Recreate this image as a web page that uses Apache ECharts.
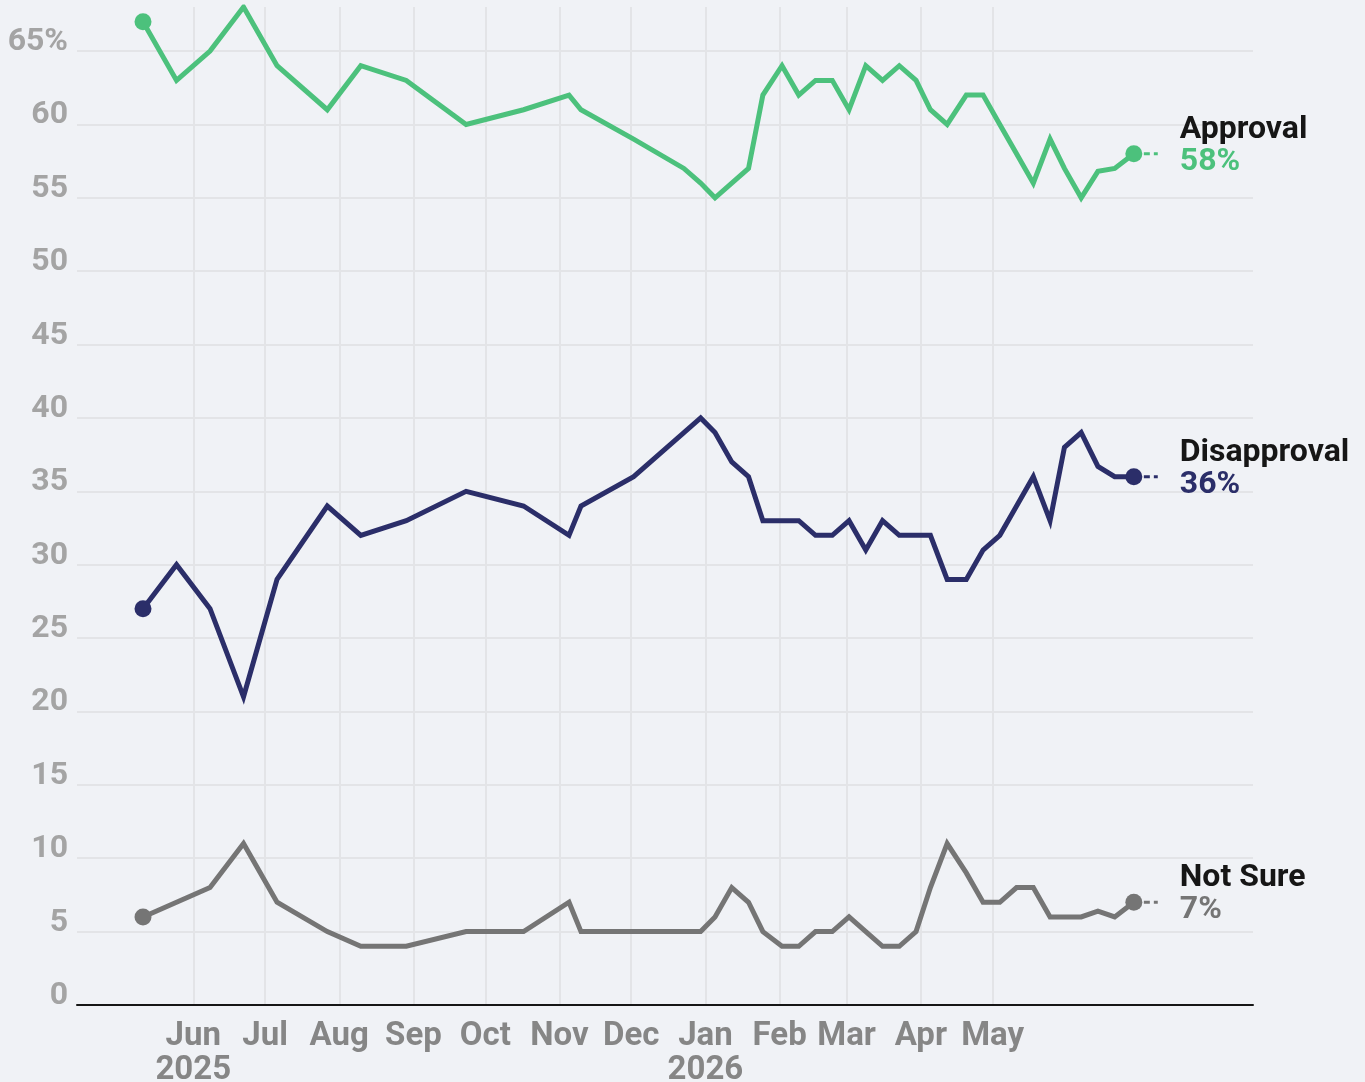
<!DOCTYPE html>
<html>
<head>
<meta charset="utf-8">
<script src="https://cdn.jsdelivr.net/npm/echarts@6/dist/echarts.min.js"></script>
<style>
  html, body { margin: 0; padding: 0; background: #f0f2f6; }
  #chart { width: 1365px; height: 1082px; }
</style>
</head>
<body>
<div id="chart"></div>
<script>
// poll dates (shared by all three series)
const pollDates = [
  '2025-05-11', '2025-05-25', '2025-06-08', '2025-06-22', '2025-07-06', '2025-07-27',
  '2025-08-10', '2025-08-29', '2025-09-23', '2025-10-17', '2025-11-05', '2025-11-10',
  '2025-12-02', '2025-12-23', '2025-12-30', '2026-01-05', '2026-01-12', '2026-01-19',
  '2026-01-25', '2026-02-02', '2026-02-09', '2026-02-16', '2026-02-23', '2026-03-02',
  '2026-03-09', '2026-03-16', '2026-03-23', '2026-03-30', '2026-04-05', '2026-04-12',
  '2026-04-20', '2026-04-27', '2026-05-04', '2026-05-11', '2026-05-18', '2026-05-25',
  '2026-05-31', '2026-06-07', '2026-06-14', '2026-06-21', '2026-06-29'
];
const approval = [
  67, 63, 65, 68, 64, 61, 64, 63, 60, 61, 62, 61,
  59, 57, 56, 55, 56, 57, 62, 64, 62, 63, 63, 61,
  64, 63, 64, 63, 61, 60, 62, 62, 60, 58, 56, 59,
  57, 55, 56.8, 57, 58
];
const disapproval = [
  27, 30, 27, 21, 29, 34, 32, 33, 35, 34, 32, 34,
  36, 39, 40, 39, 37, 36, 33, 33, 33, 32, 32, 33,
  31, 33, 32, 32, 32, 29, 29, 31, 32, 34, 36, 33,
  38, 39, 36.7, 36, 36
];
const notSure = [
  6, 7, 8, 11, 7, 5, 4, 4, 5, 5, 7, 5,
  5, 5, 5, 6, 8, 7, 5, 4, 4, 5, 5, 6,
  5, 4, 4, 5, 8, 11, 9, 7, 7, 8, 8, 6,
  6, 6, 6.4, 6, 7
];
// month gridlines / labels
const monthTicks = [
  '2025-06-01', '2025-07-01', '2025-08-01', '2025-09-01', '2025-10-01', '2025-11-01',
  '2025-12-01', '2026-01-01', '2026-02-01', '2026-03-01', '2026-04-01', '2026-05-01'
];
const yTicks = [0, 5, 10, 15, 20, 25, 30, 35, 40, 45, 50, 55, 60, 65];

const seriesDefs = [
  { name: 'Approval', values: approval, color: '#4cc17c' },
  { name: 'Disapproval', values: disapproval, color: '#2b2e69' },
  { name: 'Not Sure', values: notSure, color: '#757575' }
];

const monthNames = ['Jan', 'Feb', 'Mar', 'Apr', 'May', 'Jun', 'Jul', 'Aug', 'Sep', 'Oct', 'Nov', 'Dec'];
const toTime = (s) => new Date(s + 'T00:00:00Z').getTime();
const DAY = 86400000;
const last = pollDates.length - 1;

const chart = echarts.init(document.getElementById('chart'));

const series = [];
seriesDefs.forEach((s) => {
  // main line, dots only on first and last point
  series.push({
    name: s.name,
    type: 'line',
    data: pollDates.map((d, i) => [toTime(d), s.values[i]]),
    symbol: 'circle',
    showSymbol: true,
    symbolSize: (v, p) => (p.dataIndex === 0 || p.dataIndex === last ? 17 : 0),
    itemStyle: { color: s.color },
    lineStyle: { color: s.color, width: 5, join: 'miter' },
    z: 3
  });
  // dashed leader + end label
  const endVal = s.values[last];
  series.push({
    type: 'line',
    data: [
      [toTime(pollDates[last]), endVal],
      [toTime(pollDates[last]) + 10 * DAY, endVal]
    ],
    symbol: 'none',
    lineStyle: { color: s.color, width: 3, type: [6, 4] },
    endLabel: {
      show: true,
      distance: 22,
      offset: [0, -8],
      formatter: '{n|' + s.name + '}\n{v|' + Math.round(endVal) + '%}',
      rich: {
        n: { fontFamily: 'Roboto', fontWeight: 'bold', fontSize: 32, color: '#161616', lineHeight: 32 },
        v: { fontFamily: 'Roboto', fontWeight: 'bold', fontSize: 32, color: s.color, lineHeight: 32 }
      }
    },
    silent: true,
    z: 2
  });
});

const option = {
  backgroundColor: '#f0f2f6',
  animation: false,
  grid: { left: 77, right: 112, top: 7, bottom: 77, outerBoundsMode: 'none', containLabel: false },
  xAxis: {
    type: 'value',
    min: toTime('2025-04-13') + 10 * 3600000,
    max: toTime('2026-08-17') + 19 * 3600000,
    axisLine: { show: true, onZero: false, lineStyle: { color: '#161616', width: 2 } },
    axisTick: { show: false, customValues: monthTicks.map(toTime) },
    axisLabel: {
      customValues: monthTicks.map(toTime),
      margin: 15,
      fontFamily: 'Roboto',
      fontWeight: 'bold',
      fontSize: 33,
      lineHeight: 34,
      color: '#868686',
      formatter: (val) => {
        const d = new Date(val);
        const m = d.getUTCMonth();
        const y = d.getUTCFullYear();
        if ((y === 2025 && m === 5) || (y === 2026 && m === 0)) {
          return monthNames[m] + '\n' + y;
        }
        return monthNames[m];
      }
    },
    splitLine: { show: true, lineStyle: { color: '#e3e4e7', width: 2 } }
  },
  yAxis: {
    type: 'value',
    min: 0,
    max: 68,
    interval: 5,
    axisLine: { show: false },
    axisTick: { show: false, customValues: yTicks },
    axisLabel: {
      customValues: yTicks,
      margin: 9,
      fontFamily: 'Roboto',
      fontWeight: 'bold',
      fontSize: 32,
      lineHeight: 18,
      verticalAlign: 'bottom',
      color: '#a4a4a4',
      formatter: (v) => (v === 65 ? '65%' : String(v))
    },
    splitLine: { show: true, lineStyle: { color: '#e3e4e7', width: 2 } }
  },
  series: series
};

chart.setOption(option);
</script>
</body>
</html>
